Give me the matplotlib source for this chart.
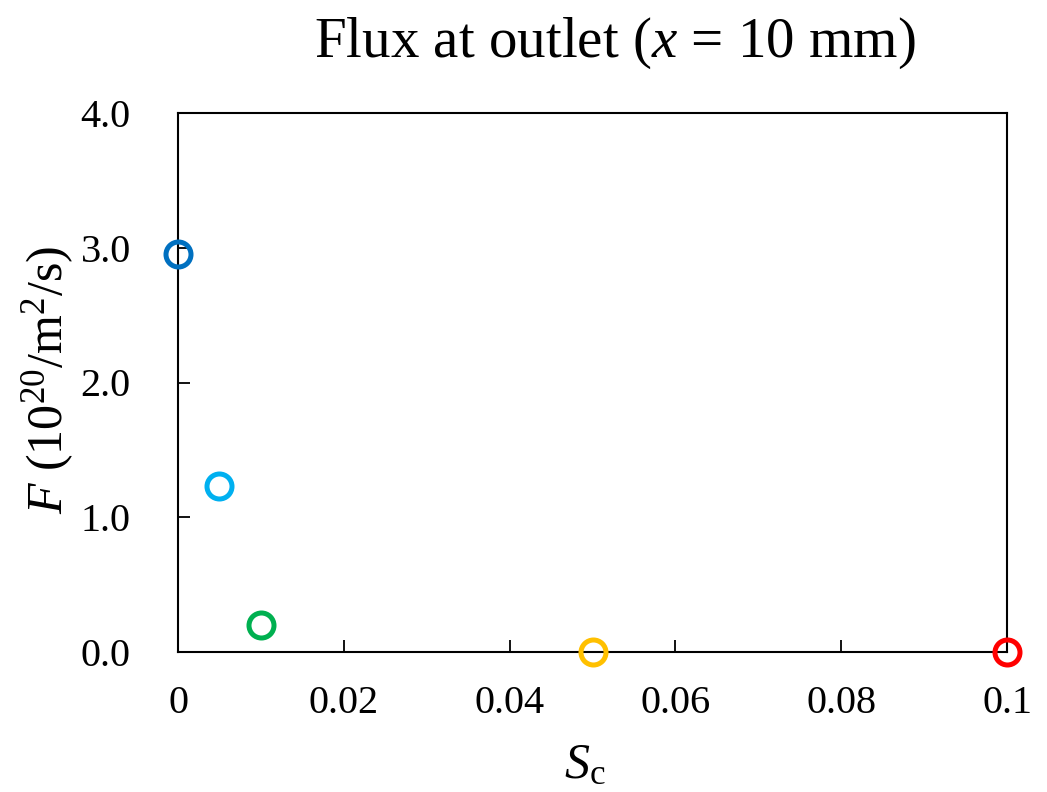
import matplotlib

matplotlib.use("Agg")
import matplotlib.pyplot as plt

# data
sc = [0.0, 0.005, 0.01, 0.05, 0.1]
flux = [2.95, 1.23, 0.20, 0.0, 0.0]
colors = ["#0070C0", "#00B0F0", "#00B050", "#FFC000", "#FF0000"]
xticks = [0, 0.02, 0.04, 0.06, 0.08, 0.1]
xtick_labels = ["0", "0.02", "0.04", "0.06", "0.08", "0.1"]
yticks = [0.0, 1.0, 2.0, 3.0, 4.0]
ytick_labels = ["0.0", "1.0", "2.0", "3.0", "4.0"]

plt.rcParams["font.family"] = ["Liberation Serif", "DejaVu Serif"]
plt.rcParams["mathtext.fontset"] = "custom"
plt.rcParams["mathtext.rm"] = "Liberation Serif"
plt.rcParams["mathtext.it"] = "Liberation Serif:italic"

W, H = 1047, 792
fig = plt.figure(figsize=(W / 100, H / 100), dpi=100)
ax = fig.add_axes([178 / W, 1 - 652 / H, (1007 - 178) / W, (652 - 113) / H])

for x, y, c in zip(sc, flux, colors):
    ax.plot(x, y, "o", ms=18, mfc="none", mec=c, mew=3.6, clip_on=False, zorder=5)

ax.set_xlim(0, 0.1)
ax.set_ylim(0, 4.0)
ax.set_xticks(xticks)
ax.set_xticklabels(xtick_labels)
ax.set_yticks(yticks)
ax.set_yticklabels(ytick_labels)
ax.tick_params(direction="in", length=8.5, width=1.3, labelsize=29, color="black")
ax.tick_params(axis="x", pad=24)
ax.tick_params(axis="y", pad=34)
for s in ax.spines.values():
    s.set_linewidth(1.5)

fig.text(585 / W, 1 - 778 / H, "$S_\\mathrm{c}$", fontsize=36,
         ha="center", va="baseline")
fig.text(48 / W, 1 - 380 / H, "$F$ (10$^{20}$/m$^2$/s)", fontsize=36,
         ha="center", va="center", rotation=90)
fig.text(615 / W, 1 - 57 / H, "Flux at outlet ($x$ = 10 mm)", fontsize=41,
         ha="center", va="baseline")

fig.savefig("out.png", dpi=100)
